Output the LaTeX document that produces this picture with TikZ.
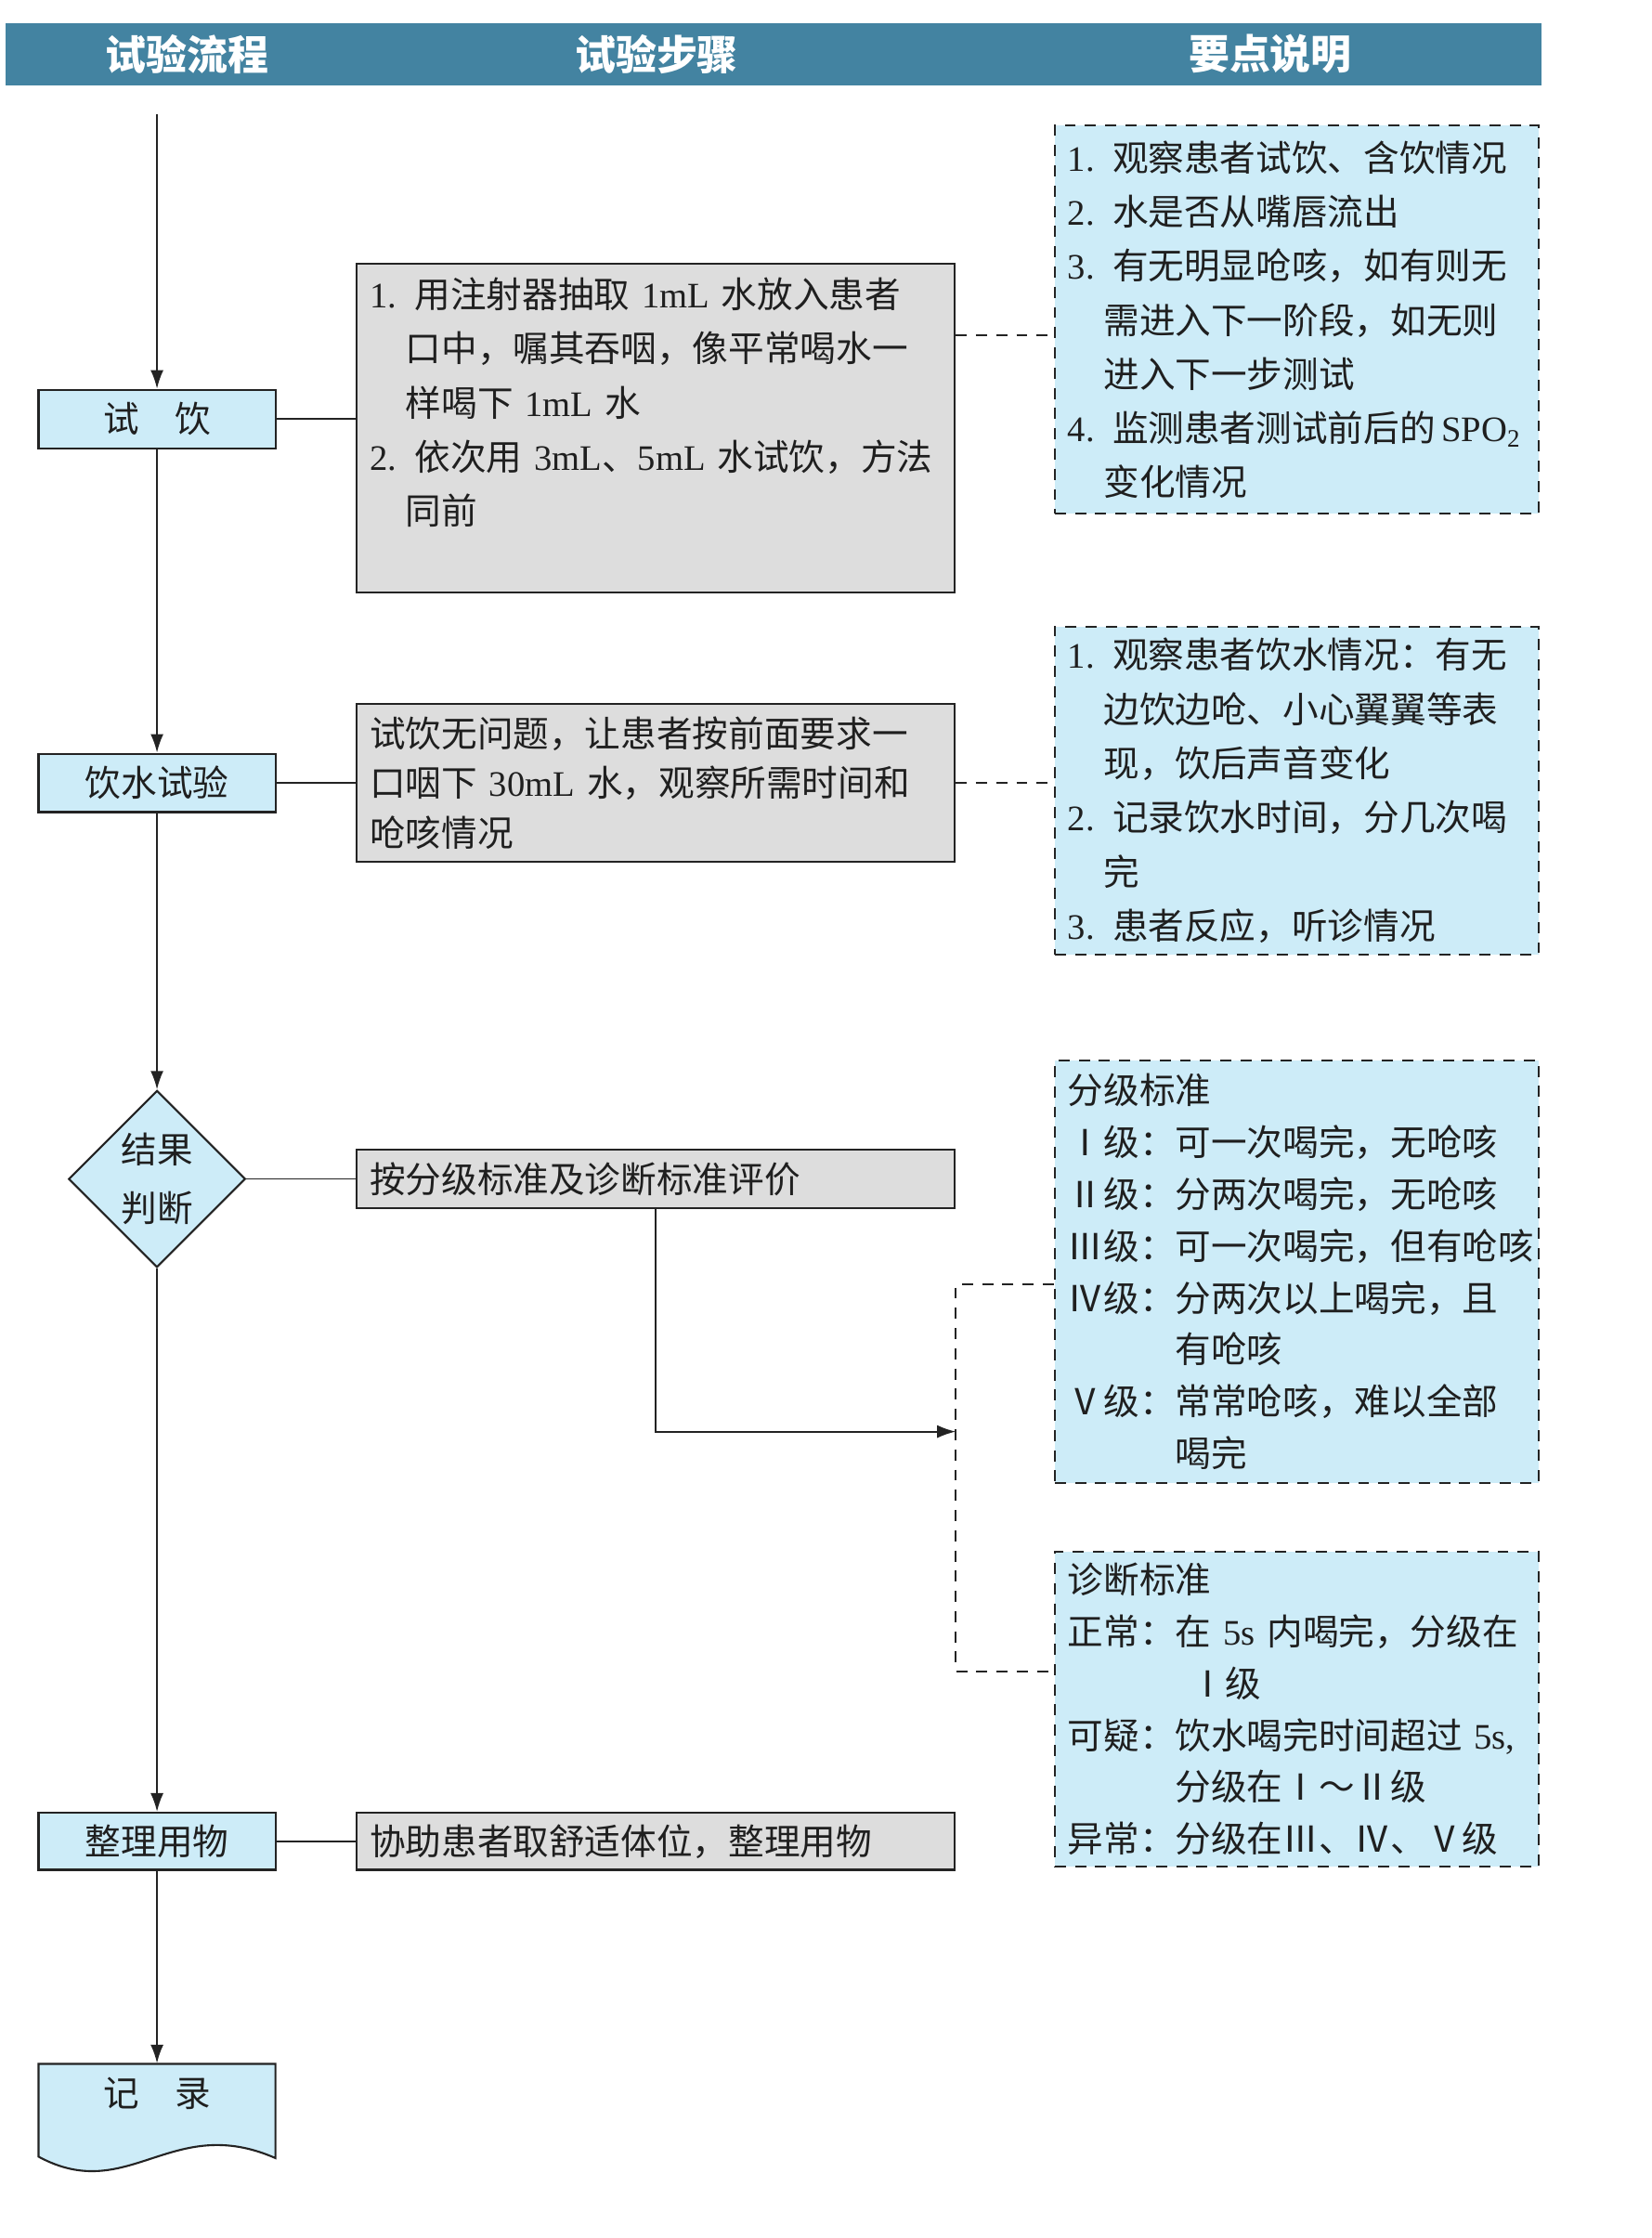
\documentclass[tikz,border=0pt]{standalone}
\usepackage{fontspec}
\usepackage{tikz}
\usetikzlibrary{arrows.meta,positioning,calc,shapes.geometric}
\setmainfont{Noto Sans CJK SC}
\newfontfamily\romfont{Liberation Serif}
\definecolor{HeadBlue}{RGB}{67,131,161}
\definecolor{PaleBlue}{RGB}{205,236,248}
\definecolor{BoxGray}{RGB}{221,221,221}
\definecolor{DarkLine}{RGB}{35,35,35}
\newcommand{\indline}{\hspace*{1em}}
\newcommand{\lvlind}{\hspace*{3em}}

\begin{document}
\begin{tikzpicture}[x=0.015376cm,y=-0.015376cm,
    every node/.style={font=\fontsize{11pt}{16.6pt}\selectfont, text=black!88},
    headtext/.style={text=white, font=\fontsize{12.5pt}{15pt}\selectfont\bfseries},
    flowbox/.style={draw=DarkLine, line width=0.6pt, fill=PaleBlue, minimum width=2.5524cm, minimum height=0.6304cm, inner sep=0pt},
    stepbox/.style={draw=DarkLine, line width=0.6pt, fill=BoxGray, text width=6.1658cm, inner xsep=0.1384cm, inner ysep=0pt, align=left},
    notebox/.style={draw=DarkLine, line width=0.6pt, dash pattern=on 3.4pt off 2.8pt, fill=PaleBlue, text width=4.9357cm, inner xsep=0.1384cm, inner ysep=0pt, align=left},
    link/.style={DarkLine, line width=0.5pt},
    flowarrow/.style={link, -{Latex[length=2mm,width=1.4mm]}},
    dashlink/.style={link, dash pattern=on 3.4pt off 2.8pt}]
        \path[fill=white, use as bounding box] (0,0) rectangle (1157,1568);
        \fill[HeadBlue] (4,16) rectangle (1080,60);
        \node (h1) [headtext] at (131,38) {试验流程};
        \node (h2) [headtext] at (460,38) {试验步骤};
        \node (h3) [headtext] at (890,38) {要点说明};

        \coordinate (start) at (110,80);
        \node (t1) [flowbox] at (110,293.5) {试\quad 饮};
        \node (t2) [flowbox] at (110,548.5) {饮水试验};
        \node (judge) [diamond, aspect=1, draw=DarkLine, line width=0.6pt, fill=PaleBlue, minimum width=1.9066cm, minimum height=1.9066cm, inner sep=0pt, align=center, font=\fontsize{11pt}{17.9pt}\selectfont] at (110,826) {结果\\判断};
        \node (t4) [flowbox, minimum height=0.615cm] at (110,1290) {整理用物};
        \draw[DarkLine, line width=0.6pt, fill=PaleBlue] (27,1446) -- (193,1446) -- (193,1512) .. controls (120,1480) and (90,1545) .. (27,1511) -- cycle;
        \node (rec) [minimum width=2.5524cm, minimum height=0.6458cm, inner sep=0pt] at (110,1467) {记\quad 录};

        \node (s1) [stepbox, minimum height=3.5365cm] at (459.5,300) {{\romfont 1. }用注射器抽取 {\romfont 1mL} 水放入患者\\
            \indline 口中，嘱其吞咽，像平常喝水一\\
            \indline 样喝下 {\romfont 1mL} 水\\
            {\romfont 2. }依次用 {\romfont 3mL}、{\romfont 5mL} 水试饮，方法\\
            \indline 同前\\
            \mbox{}};
        \node (s2) [stepbox, minimum height=1.7067cm, font=\fontsize{11pt}{15.3pt}\selectfont] at (459.5,548.5) {试饮无问题，让患者按前面要求一\\
            口咽下 {\romfont 30mL} 水，观察所需时间和\\
            呛咳情况};
        \node (s3) [stepbox, minimum height=0.6304cm] at (459.5,826) {按分级标准及诊断标准评价};
        \node (s4) [stepbox, minimum height=0.615cm] at (459.5,1290) {协助患者取舒适体位，整理用物};

        \node (d1) [notebox, minimum height=4.1823cm] at (908.5,224) {{\romfont 1. }观察患者试饮、含饮情况\\
            {\romfont 2. }水是否从嘴唇流出\\
            {\romfont 3. }有无明显呛咳，如有则无\\
            \indline 需进入下一阶段，如无则\\
            \indline 进入下一步测试\\
            \mbox{{\romfont 4. }监测患者测试前后的\,{\romfont SPO\textsubscript{2}}}\\
            \indline 变化情况};
        \node (d2) [notebox, minimum height=3.5365cm] at (908.5,554) {{\romfont 1. }观察患者饮水情况：有无\\
            \indline 边饮边呛、小心翼翼等表\\
            \indline 现，饮后声音变化\\
            {\romfont 2. }记录饮水时间，分几次喝\\
            \indline 完\\
            {\romfont 3. }患者反应，听诊情况};
        \node (d3) [notebox, minimum height=4.5513cm, font=\fontsize{11pt}{15.9pt}\selectfont] at (908.5,891) {分级标准\\
            Ⅰ级：可一次喝完，无呛咳\\
            Ⅱ级：分两次喝完，无呛咳\\
            Ⅲ级：可一次喝完，但有呛咳\\
            Ⅳ级：分两次以上喝完，且\\
            \lvlind 有呛咳\\
            Ⅴ级：常常呛咳，难以全部\\
            \lvlind 喝完};
        \node (d4) [notebox, minimum height=3.3981cm, font=\fontsize{11pt}{15.9pt}\selectfont] at (908.5,1197.5) {诊断标准\\
            正常：在 {\romfont 5s} 内喝完，分级在\\
            \hspace*{3.4em}Ⅰ级\\
            可疑：饮水喝完时间超过~{\romfont 5s,}\\
            \lvlind 分级在Ⅰ～Ⅱ级\\
            异常：分级在Ⅲ、Ⅳ、Ⅴ级};

        \draw[flowarrow] (start) -- (t1);
        \draw[flowarrow] (t1) -- (t2);
        \draw[flowarrow] (t2) -- (judge);
        \draw[flowarrow] (judge) -- (t4);
        \draw[flowarrow] (t4) -- (rec.north);
        \draw[link] (t1.east) -- (t1.east -| s1.west);
        \draw[link] (t2.east) -- (t2.east -| s2.west);
        \draw[link] (judge.east) -- (s3.west);
        \draw[link] (t4.east) -- (s4.west);
        \coordinate (tap1) at ($(d1.west)+(0,11)$);
        \draw[dashlink] (s1.east |- tap1) -- (tap1);
        \draw[dashlink] (s2.east) -- (s2.east -| d2.west);
        \coordinate (brk) at ($(s3.east)+(0,177)$);
        \draw[flowarrow] (s3.south) |- (brk);
        \draw[dashlink] ($(d3.west)+(0,9)$) -| (brk) |- ($(d4.west)+(0,-26.5)$);
      \end{tikzpicture}
\end{document}
